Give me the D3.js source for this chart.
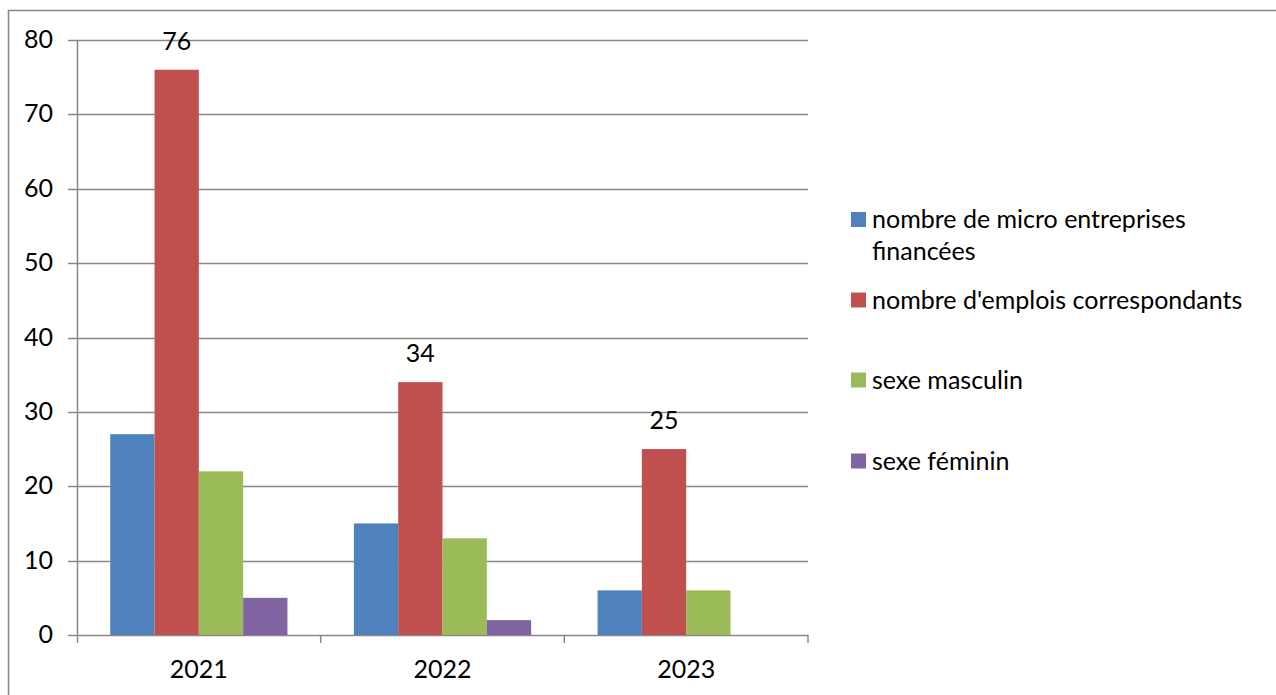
<!DOCTYPE html>
<html>
<head>
<meta charset="utf-8">
<script src="https://cdn.jsdelivr.net/npm/d3@7"></script>
<style>
  body { margin: 0; background: #fff; }
  text { font-family: Lato, "Open Sans", sans-serif; fill: #000; }
</style>
</head>
<body>
<script>
// data
const years = ["2021", "2022", "2023"];
const seriesNames = [
  "nombre de micro entreprises financées",
  "nombre d'emplois correspondants",
  "sexe masculin",
  "sexe féminin"
];
const microEntreprises = [27, 15, 6];
const emplois = [76, 34, 25];
const masculin = [22, 13, 6];
const feminin = [5, 2, 0];
const yTicks = [0, 10, 20, 30, 40, 50, 60, 70, 80];
const colors = ["#4f81bd", "#c0504d", "#9bbb59", "#8064a2"];

const values = [microEntreprises, emplois, masculin, feminin];
const width = 1276, height = 695;
const fs = 25;

const svg = d3.select("body").append("svg")
    .attr("width", width)
    .attr("height", height);

// outer frame
svg.append("path")
    .attr("d", `M8.5,${height} V10.5 H${width}`)
    .attr("fill", "none")
    .attr("stroke", "#888")
    .attr("stroke-width", 1.5);

const x = d3.scaleBand().domain(years).range([77, 808]);
const xs = d3.scaleBand().domain(d3.range(4)).range([0, x.bandwidth()]).paddingOuter(0.75);
const y = d3.scaleLinear().domain([0, 80]).range([635, 40]);

// grid lines + y ticks
svg.append("g")
    .selectAll("line")
    .data(yTicks)
    .join("line")
    .attr("x1", 68).attr("x2", 808)
    .attr("y1", d => Math.round(y(d)) + 0.5)
    .attr("y2", d => Math.round(y(d)) + 0.5)
    .attr("stroke", "#888")
    .attr("stroke-width", 1.5);

svg.append("g")
    .selectAll("text")
    .data(yTicks)
    .join("text")
    .attr("x", 53)
    .attr("y", d => y(d) + 8)
    .attr("text-anchor", "end")
    .style("font-size", fs + "px")
    .text(d => d);

// bars
const groups = svg.append("g")
    .selectAll("g")
    .data(years)
    .join("g")
    .attr("transform", d => `translate(${x(d)},0)`);

groups.selectAll("rect")
    .data((d, i) => values.map((s, k) => ({ k, v: s[i] })))
    .join("rect")
    .attr("x", d => xs(d.k))
    .attr("width", xs.bandwidth())
    .attr("y", d => y(d.v))
    .attr("height", d => y(0) - y(d.v))
    .attr("fill", d => colors[d.k]);

// data labels on the red series
groups.append("text")
    .attr("x", (d, i) => xs(1) + xs.bandwidth() / 2)
    .attr("y", (d, i) => y(emplois[i]) - 20)
    .attr("text-anchor", "middle")
    .style("font-size", fs + "px")
    .text((d, i) => emplois[i]);

// axes lines
svg.append("line")
    .attr("x1", 77.5).attr("x2", 77.5)
    .attr("y1", 40).attr("y2", 643)
    .attr("stroke", "#888").attr("stroke-width", 1.5);

svg.append("g")
    .selectAll("line")
    .data(years.map(d => x(d) + x.bandwidth()))
    .join("line")
    .attr("x1", d => d).attr("x2", d => d)
    .attr("y1", 635).attr("y2", 643)
    .attr("stroke", "#888").attr("stroke-width", 1.5);

svg.append("g")
    .selectAll("text")
    .data(years)
    .join("text")
    .attr("x", d => x(d) + x.bandwidth() / 2)
    .attr("y", 678)
    .attr("text-anchor", "middle")
    .style("font-size", fs + "px")
    .text(d => d);

// legend
const legendLines = [
  ["nombre de micro entreprises", "financées"],
  ["nombre d'emplois correspondants"],
  ["sexe masculin"],
  ["sexe féminin"]
];
const legendY = [219.5, 300, 380, 461];

const leg = svg.append("g")
    .selectAll("g")
    .data(legendLines)
    .join("g")
    .attr("transform", (d, i) => `translate(851,${legendY[i]})`);

leg.append("rect")
    .attr("x", 0).attr("y", -7.5)
    .attr("width", 15).attr("height", 15)
    .attr("fill", (d, i) => colors[i]);

leg.append("text")
    .style("font-size", fs + "px")
    .selectAll("tspan")
    .data(d => d)
    .join("tspan")
    .attr("x", 21)
    .attr("y", (d, j) => 8.5 + j * 32)
    .text(d => d);
</script>
</body>
</html>
